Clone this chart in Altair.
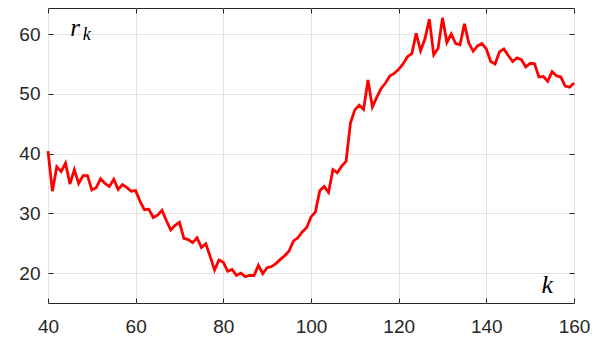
import altair as alt
import pandas as pd

k_values = list(range(40, 161))
r_values = [
    40.4, 33.7, 37.8, 37.0, 38.4, 34.9, 37.3, 35.0, 36.3, 36.3,
    33.9, 34.3, 35.8, 35.0, 34.5, 35.7, 34.0, 34.8, 34.3, 33.7,
    33.8, 32.0, 30.6, 30.7, 29.3, 29.7, 30.5, 28.8, 27.2, 28.0,
    28.5, 25.8, 25.6, 25.1, 25.9, 24.3, 24.9, 22.8, 20.5, 22.2,
    21.8, 20.3, 20.6, 19.6, 20.0, 19.4, 19.6, 19.6, 21.3, 19.9,
    20.9, 21.1, 21.6, 22.3, 22.9, 23.7, 25.4, 25.9, 26.9, 27.6,
    29.4, 30.2, 33.8, 34.5, 33.5, 37.3, 36.8, 37.9, 38.7, 45.1,
    47.3, 48.1, 47.4, 52.3, 47.8, 49.4, 50.9, 51.8, 53.0, 53.4,
    54.1, 55.0, 56.2, 56.7, 60.1, 57.2, 59.2, 62.5, 56.5, 57.6,
    62.7, 58.6, 60.0, 58.4, 58.2, 61.7, 58.5, 57.1, 58.0, 58.4,
    57.5, 55.4, 55.0, 57.0, 57.5, 56.4, 55.4, 56.0, 55.7, 54.5,
    55.1, 55.0, 52.8, 52.9, 52.1, 53.7, 53.0, 52.8, 51.3, 51.1,
    51.8,
]
x_ticks = [40, 60, 80, 100, 120, 140, 160]
y_ticks = [20, 30, 40, 50, 60]

df = pd.DataFrame({"k": k_values, "r": r_values})

AX = "#262626"
GRID = "#e2e2e2"
xs = alt.Scale(domain=[40, 160], nice=False, zero=False)
ys = alt.Scale(domain=[15, 64.35], nice=False, zero=False)

common = dict(tickSize=5, offset=-5, domain=False, tickColor=AX, tickWidth=1,
              title=None, labelFont="Liberation Sans", labelFontSize=19,
              labelColor=AX, labelFlush=False, labelOverlap=False, labelBound=False)

ax_bottom = alt.Axis(orient="bottom", values=x_ticks, grid=True, gridColor=GRID,
                     labelPadding=14, **common)
ax_left = alt.Axis(orient="left", values=y_ticks, grid=True, gridColor=GRID,
                   labelPadding=8, **common)
ax_top = alt.Axis(orient="top", values=x_ticks, grid=False, labels=False, **common)
ax_right = alt.Axis(orient="right", values=y_ticks, grid=False, labels=False, **common)

line = alt.Chart(df).mark_line(color="#ff0000", strokeWidth=2.8).encode(
    x=alt.X("k:Q", scale=xs, axis=ax_bottom),
    y=alt.Y("r:Q", scale=ys, axis=ax_left),
)
ghost = alt.Chart(df).mark_line(opacity=0).encode(
    x=alt.X("k:Q", scale=xs, axis=ax_top),
    y=alt.Y("r:Q", scale=ys, axis=ax_right),
)

serif = "Liberation Serif"
r_lab = alt.Chart().mark_text(text="r", font=serif, fontStyle="italic", fontSize=25,
                             align="left", baseline="alphabetic", color="black").encode(
    x=alt.datum(45.1, scale=xs, axis=None), y=alt.datum(59.67, scale=ys, axis=None))
sub_lab = alt.Chart().mark_text(text="k", font=serif, fontStyle="italic", fontSize=18,
                               align="left", baseline="alphabetic", color="black").encode(
    x=alt.datum(47.9, scale=xs, axis=None), y=alt.datum(59.0, scale=ys, axis=None))
k_lab = alt.Chart().mark_text(text="k", font=serif, fontStyle="italic", fontSize=26,
                             align="left", baseline="alphabetic", color="black").encode(
    x=alt.datum(152.6, scale=xs, axis=None), y=alt.datum(16.7, scale=ys, axis=None))

chart = alt.layer(line, ghost, r_lab, sub_lab, k_lab).resolve_axis(
    x="independent", y="independent"
).properties(
    width=526, height=295,
    autosize=alt.AutoSizeParams(type="none"),
    padding={"left": 40, "top": 0, "right": 30, "bottom": 35},
).configure_view(stroke=AX, strokeWidth=1)

chart.save("out.html", embed_options={"renderer": "svg", "actions": False})
